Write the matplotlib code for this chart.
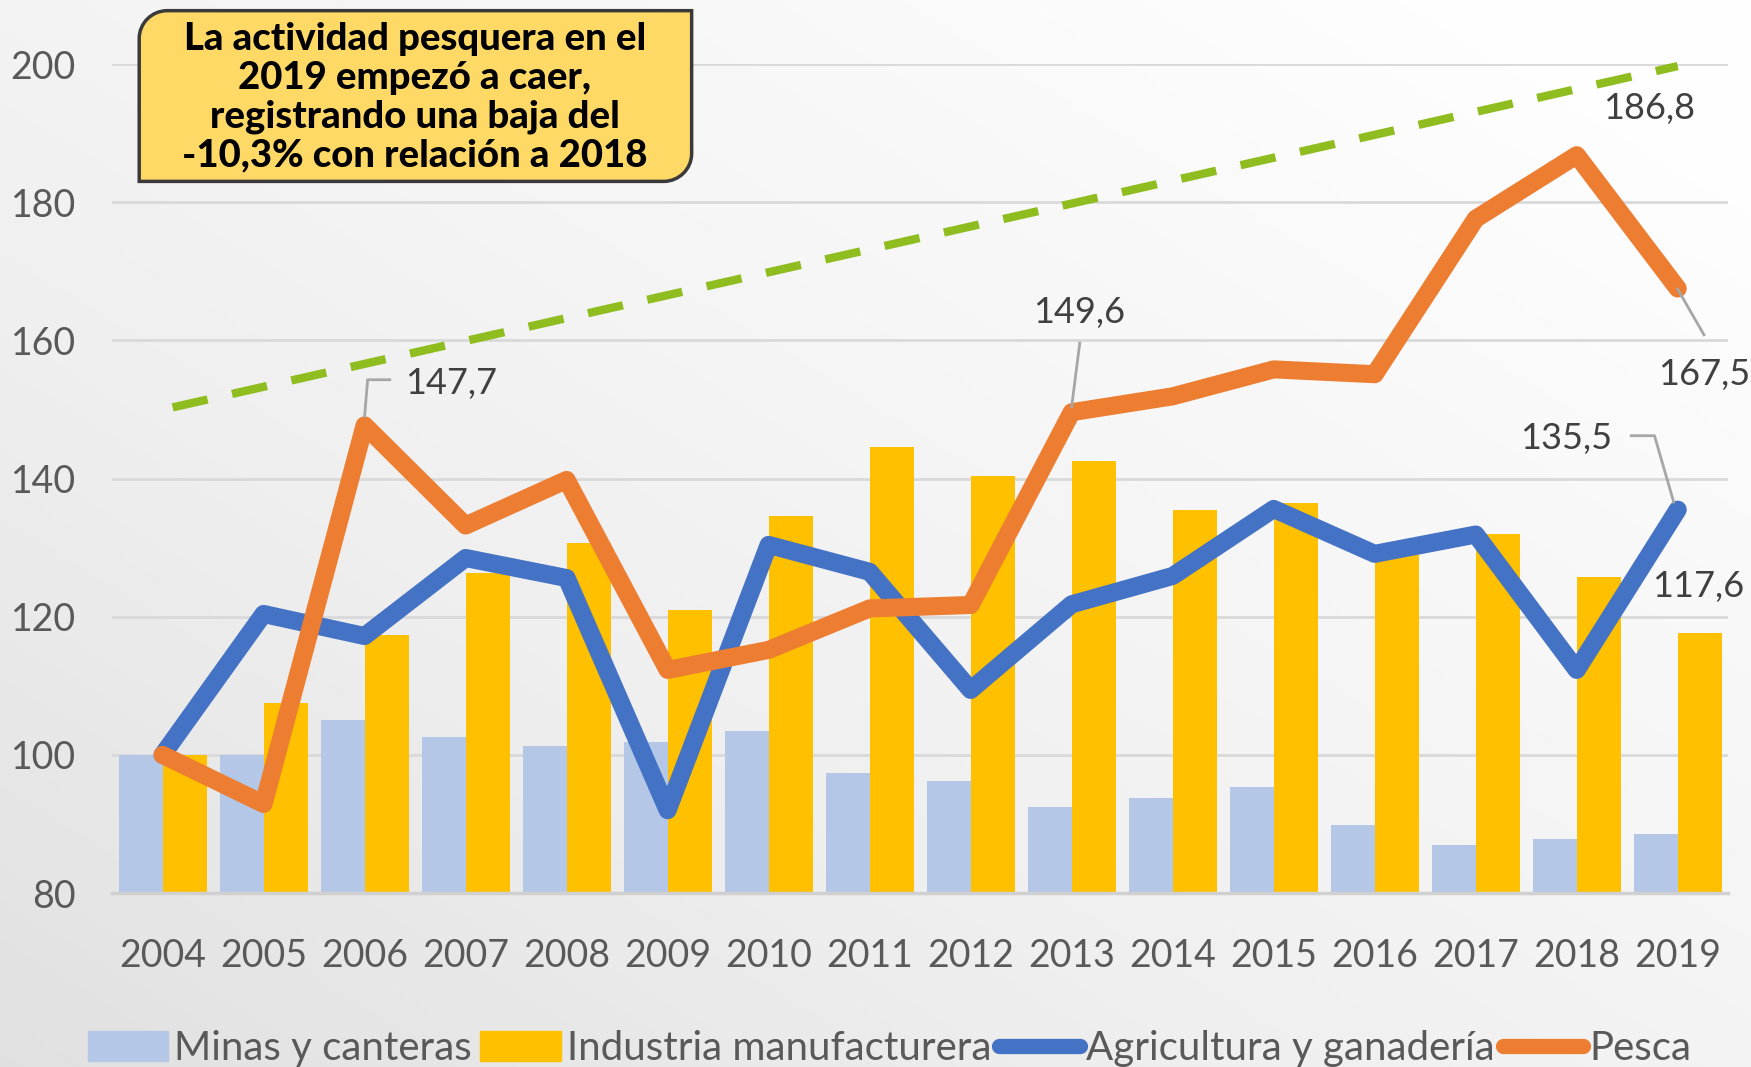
import numpy as np
import matplotlib
matplotlib.use("Agg")
import matplotlib.pyplot as plt
from matplotlib.patches import PathPatch, Patch
from matplotlib.path import Path
from matplotlib.lines import Line2D

# datos
years = ["2004", "2005", "2006", "2007", "2008", "2009", "2010", "2011",
         "2012", "2013", "2014", "2015", "2016", "2017", "2018", "2019"]
minas = [100.0, 100.0, 105.0, 102.6, 101.3, 101.8, 103.4, 97.4,
         96.2, 92.4, 93.7, 95.3, 89.9, 86.9, 87.8, 88.6]
industria = [100.0, 107.5, 117.3, 126.4, 130.7, 121.0, 134.6, 144.6,
             140.4, 142.5, 135.4, 136.5, 130.3, 132.0, 125.7, 117.6]
agricultura = [100.0, 120.4, 117.2, 128.5, 125.6, 92.0, 130.4, 126.5,
               109.4, 121.8, 125.9, 135.6, 129.1, 131.9, 112.3, 135.5]
pesca = [100.0, 92.9, 147.7, 133.2, 139.8, 112.3, 115.2, 121.2,
         121.7, 149.6, 151.9, 155.8, 155.1, 177.6, 186.8, 167.5]
# flecha de tendencia (dibujada a mano en el original)
trend_x = [0.1, 15.0]
trend_y = [150.3, 199.7]

c_minas = "#B4C7E7"
c_ind = "#FFC000"
c_agri = "#4472C4"
c_pesca = "#ED7D31"
c_trend = "#8FBC1F"
c_txt = "#595959"

plt.rcParams["font.family"] = ["Lato", "DejaVu Sans"]

fig = plt.figure(figsize=(17.51, 10.67), dpi=100)

# fondo degradado
bg = fig.add_axes([0, 0, 1, 1], zorder=-10)
gx, gy = np.meshgrid(np.linspace(0, 1, 200), np.linspace(0, 1, 200))
grad = np.clip(0.55 * gx + 0.55 * (1 - gy), 0, 1)
bg.imshow(grad, cmap="Greys_r", vmin=-4.0, vmax=1.05, aspect="auto",
          extent=[0, 1, 0, 1], origin="upper")
bg.axis("off")

ax = fig.add_axes([0.064, 0.163, 0.923, 0.777])
ax.patch.set_alpha(0)
x = np.arange(len(years))
w = 0.435

ax.bar(x - w / 2, [m - 80 for m in minas], w, bottom=80, color=c_minas, zorder=2)
ax.bar(x + w / 2, [v - 80 for v in industria], w, bottom=80, color=c_ind, zorder=2)
ax.plot(x, agricultura, color=c_agri, lw=13, solid_capstyle="round",
        solid_joinstyle="round", zorder=4)
ax.plot(x, pesca, color=c_pesca, lw=13, solid_capstyle="round",
        solid_joinstyle="round", zorder=5)
ax.plot(trend_x, trend_y, color=c_trend, lw=6, dashes=(4.3, 3.0), zorder=3,
        clip_on=False)

ax.set_xlim(-0.5, 15.5)
ax.set_ylim(80, 200)
ax.set_yticks(range(80, 201, 20))
ax.set_xticks(x)
ax.set_xticklabels(years)
ax.tick_params(axis="both", length=0, labelsize=27, colors=c_txt)
ax.tick_params(axis="x", pad=32)
ax.tick_params(axis="y", pad=26)
ax.grid(axis="y", color="#d9d9d9", lw=2, zorder=0)
for s in ["top", "right", "left"]:
    ax.spines[s].set_visible(False)
ax.spines["bottom"].set_color("#d0d0d0")
ax.spines["bottom"].set_linewidth(2.5)

# etiquetas de datos
lbl = dict(fontsize=26, color="#404040", zorder=6)
lead = dict(color="#a6a6a6", lw=2, zorder=6)
ax.text(14.72, 193.6, "186,8", ha="center", va="center", **lbl)
ax.text(15.26, 155.1, "167,5", ha="center", va="center", **lbl)
ax.text(15.2, 124.4, "117,6", ha="center", va="center", **lbl)
ax.text(2.4, 153.8, "147,7", ha="left", va="center", **lbl)
ax.text(9.07, 164.0, "149,6", ha="center", va="center", **lbl)
ax.text(14.35, 145.8, "135,5", ha="right", va="center", **lbl)
ax.plot([2.0, 2.03, 2.25], [149.0, 154.3, 154.3], **lead)
ax.plot([9.08, 9.0], [159.6, 150.4], **lead)
ax.plot([15.0, 15.26], [167.4, 160.8], **lead)
ax.plot([14.54, 14.77, 14.96], [146.2, 146.2, 136.6], **lead)

# recuadro de texto: esquinas redondeadas arriba-izq y abajo-der
x0, y0, x1, y1 = 0.0795, 0.830, 0.395, 0.990
rx, ry = 0.016, 0.026
k = 0.45
verts = [(x0 + rx, y1), (x1, y1), (x1, y0 + ry),
         (x1, y0 + ry * k), (x1 - rx * k, y0), (x1 - rx, y0),
         (x0, y0), (x0, y1 - ry),
         (x0, y1 - ry * k), (x0 + rx * k, y1), (x0 + rx, y1),
         (x0 + rx, y1)]
codes = [Path.MOVETO, Path.LINETO, Path.LINETO,
         Path.CURVE4, Path.CURVE4, Path.CURVE4,
         Path.LINETO, Path.LINETO,
         Path.CURVE4, Path.CURVE4, Path.CURVE4,
         Path.CLOSEPOLY]
box = PathPatch(Path(verts, codes), transform=fig.transFigure,
                fc="#FFD966", ec="#3a3a3a", lw=2.5, zorder=10)
fig.patches.append(box)
fig.text(0.237, 0.909,
         "La actividad pesquera en el\n2019 empezó a caer,\n"
         "registrando una baja del\n-10,3% con relación a 2018",
         ha="center", va="center", fontsize=27.5, fontweight="black",
         family=["Lato", "DejaVu Sans"], linespacing=1.16, color="black",
         zorder=11)

# leyenda
handles = [Patch(color=c_minas), Patch(color=c_ind),
           Line2D([], [], color=c_agri, lw=11, solid_capstyle="round"),
           Line2D([], [], color=c_pesca, lw=11, solid_capstyle="round")]
labels = ["Minas y canteras", "Industria manufacturera",
          "Agricultura y ganadería", "Pesca"]
fig.legend(handles, labels, loc="lower center", bbox_to_anchor=(0.508, -0.034),
           ncol=4, frameon=False, fontsize=29, handlelength=2.0,
           handleheight=0.75, handletextpad=0.15, columnspacing=0.2,
           labelcolor=c_txt)

fig.savefig("out.png", dpi=100)
